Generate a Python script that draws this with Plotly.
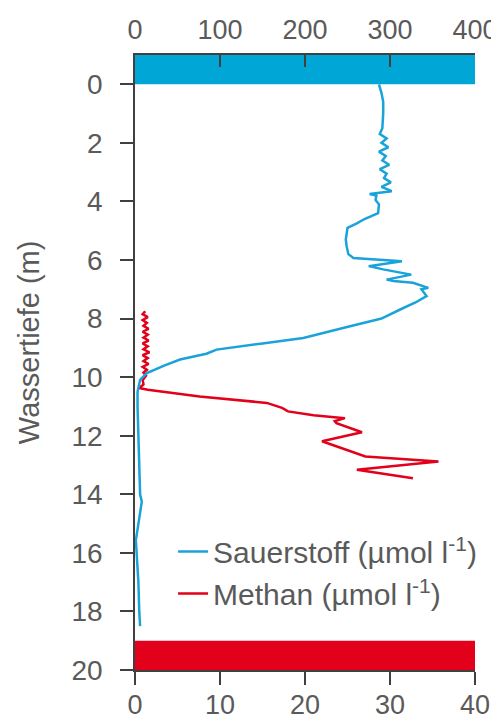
import plotly.graph_objects as go

# Oxygen profile (top axis, µmol/l) vs depth (m)
o2_depth = [0, 0.3, 0.6, 1.0, 1.5, 1.7, 1.85, 2.0, 2.15, 2.3, 2.45, 2.6, 2.75, 2.9, 3.05, 3.2,
            3.35, 3.5, 3.65, 3.75, 3.8, 3.95, 4.1, 4.4, 4.6, 4.75, 4.9, 5.07, 5.3, 5.53, 5.8,
            5.93, 6.04, 6.21, 6.32, 6.5, 6.67, 6.72, 6.78, 6.95, 7.0, 7.23, 7.45, 7.69, 8.0,
            8.26, 8.66, 8.85, 9.06, 9.2, 9.4, 9.6, 9.86, 10.09, 10.5, 11, 12, 13, 14, 14.25,
            14.7, 15.2, 15.56, 16, 17, 18, 18.5]
o2_value = [287, 290, 292, 292, 291, 288, 296, 290, 298, 287, 295, 291, 299, 288, 296, 293,
            301, 290, 302, 276, 284, 283, 287, 286, 270, 261, 250, 249, 248, 249, 251,
            257, 314, 275, 292, 325, 296, 304, 327, 345, 337, 343, 330, 312, 290,
            253, 198, 150, 96, 84, 53, 35, 14, 6, 3, 3, 4, 5, 6, 8,
            6, 3, 1, 2, 4, 5, 6]

# Methane profile (bottom axis, µmol/l) vs depth (m)
ch4_depth = [7.75, 7.85, 7.95, 8.05, 8.15, 8.25, 8.35, 8.45, 8.55, 8.65, 8.75, 8.85, 8.95,
             9.05, 9.15, 9.25, 9.35, 9.45, 9.55, 9.65, 9.75, 9.85, 9.95, 10.1, 10.25, 10.37,
             10.43, 10.66, 10.88, 11.05, 11.17, 11.3, 11.4, 11.5, 11.57, 11.88, 12.19, 12.71,
             12.88, 13.16, 13.45]
ch4_value = [1.2, 0.9, 1.5, 0.9, 1.4, 1.0, 1.6, 0.9, 1.5, 1.0, 1.6, 0.9, 1.5,
             1.0, 1.7, 0.9, 1.5, 1.0, 1.6, 0.9, 1.4, 1.0, 1.3, 0.9, 1.0, 0.5,
             1.5, 7.6, 15.5, 17.3, 18.0, 21.0, 24.7, 23.5, 23.7, 26.7, 22.0, 27.1,
             35.7, 26.1, 32.7]

# Surface (water) and bottom (sediment) bands
surface_band = {"depth": -0.5, "thickness": 1.0, "extent": 400}
bottom_band = {"depth": 19.5, "thickness": 1.0, "extent": 40}

o2_ticks = [0, 100, 200, 300, 400]
ch4_ticks = [0, 10, 20, 30, 40]
depth_ticks = list(range(0, 21, 2))
y_title = "Wassertiefe (m)"

BLUE = "#1aa3d9"
BAND_BLUE = "#00a6d6"
RED = "#e2001a"
FONT = "Liberation Sans"
TXT = "#5a5a5a"
AX = "#404040"
TICK_SIZE = 28

fig = go.Figure()
fig.add_trace(go.Bar(orientation="h", y=[surface_band["depth"]], x=[surface_band["extent"]],
                     width=[surface_band["thickness"]], marker=dict(color=BAND_BLUE, line_width=0),
                     xaxis="x2", yaxis="y", showlegend=False, hoverinfo="skip"))
fig.add_trace(go.Bar(orientation="h", y=[bottom_band["depth"]], x=[bottom_band["extent"]],
                     width=[bottom_band["thickness"]], marker=dict(color=RED, line_width=0),
                     xaxis="x", yaxis="y", showlegend=False, hoverinfo="skip"))
fig.add_trace(go.Scatter(x=o2_value, y=o2_depth, mode="lines", xaxis="x2", yaxis="y",
                         line=dict(color=BLUE, width=2.5),
                         name="Sauerstoff (µmol l<sup>-1</sup>)", legendgroup="a"))
fig.add_trace(go.Scatter(x=ch4_value, y=ch4_depth, mode="lines", xaxis="x", yaxis="y",
                         line=dict(color=RED, width=2.5),
                         name="Methan (µmol l<sup>-1</sup>)", legendgroup="b"))

fig.update_layout(
    width=491, height=714,
    margin=dict(l=127, r=24, t=47, b=52),
    paper_bgcolor="white", plot_bgcolor="white",
    font=dict(family=FONT, size=TICK_SIZE, color=TXT),
    barmode="overlay",
    xaxis=dict(range=[0, 40], tickvals=ch4_ticks, ticks="outside", ticklen=13, tickwidth=1.5,
               tickcolor=AX, showline=True, linecolor=AX, linewidth=1.5, showgrid=False,
               zeroline=False, side="bottom", anchor="y", tickfont=dict(size=27),
               ticklabelstandoff=-3, automargin=False),
    xaxis2=dict(range=[0, 400], tickvals=o2_ticks, ticks="inside", ticklen=12, tickwidth=1.5,
                tickcolor=AX, showline=True, linecolor=AX, linewidth=1.5, showgrid=False,
                zeroline=False, side="top", overlaying="x", anchor="y",
                tickfont=dict(size=27), ticklabelstandoff=3, automargin=False),
    yaxis=dict(range=[20, -1], tickvals=depth_ticks, ticks="outside", ticklen=13, tickwidth=1.5,
               tickcolor=AX, showline=True, linecolor=AX, linewidth=1.5, showgrid=False,
               zeroline=False, tickfont=dict(size=TICK_SIZE), ticklabelstandoff=12,
               automargin=False),
    legend=dict(x=0.112, y=0.235, xanchor="left", yanchor="top", bgcolor="rgba(0,0,0,0)",
                font=dict(size=30, color=TXT), tracegroupgap=0, itemwidth=30),
    annotations=[dict(text=y_title, xref="paper", yref="paper", x=-0.312, y=0.533,
                      xanchor="center", yanchor="middle", textangle=-90, showarrow=False,
                      font=dict(size=29, color=TXT))],
)

fig.write_html("out.html")
